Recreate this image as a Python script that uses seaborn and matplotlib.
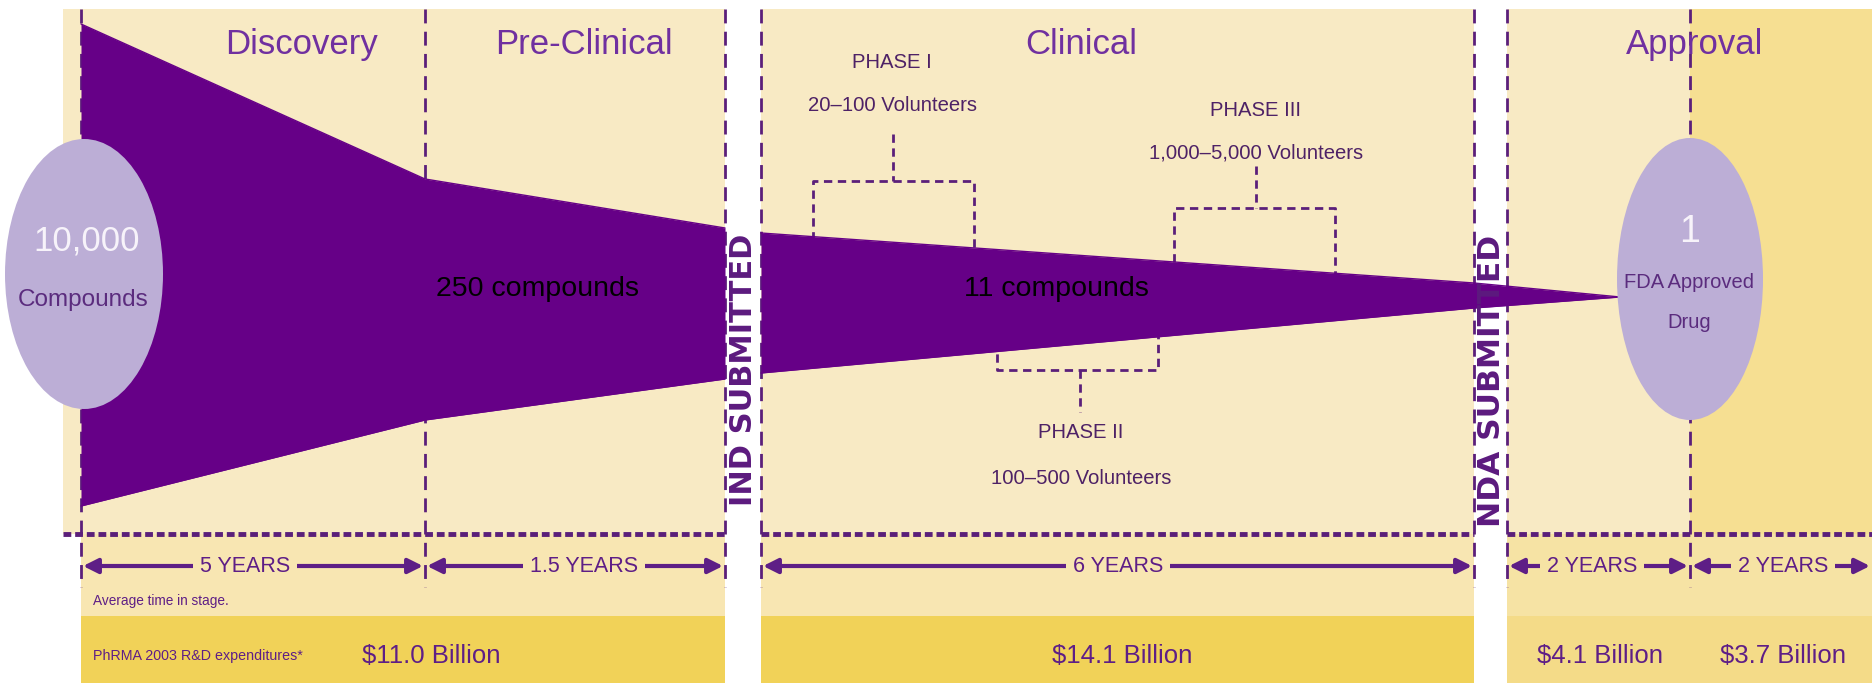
import matplotlib
matplotlib.use("Agg")
import matplotlib.pyplot as plt
from matplotlib.patches import Rectangle, Ellipse
import seaborn as sns
import pandas as pd

# ---------------- data ----------------
stages = ["Discovery", "Pre-Clinical", "Clinical", "Approval"]
compounds_start = "10,000"
compounds_mid = ["250 compounds", "11 compounds"]
approved_count = "1"
years_labels = ["5 YEARS", "1.5 YEARS", "6 YEARS", "2 YEARS", "2 YEARS"]
spend_labels = ["$11.0 Billion", "$14.1 Billion", "$4.1 Billion", "$3.7 Billion"]
phase_names = ["PHASE I", "PHASE II", "PHASE III"]
phase_volunteers = ["20\u2013100 Volunteers", "100\u2013500 Volunteers", "1,000\u20135,000 Volunteers"]
milestones = ["IND SUBMITTED", "NDA SUBMITTED"]

# funnel outline (stage boundary -> upper / lower edge)
funnel1_x = [81, 425, 725]
funnel1_top = [24, 179, 228]
funnel1_bot = [506, 420, 379]
funnel2_x = [761, 1474, 1620]
funnel2_top = [233, 283, 297]
funnel2_bot = [373, 308, 297]

# ---------------- style ----------------
sns.set_theme(style="white")
plt.rcParams["font.family"] = ["Liberation Sans", "DejaVu Sans"]
NARROW = ["Liberation Sans", "DejaVu Sans"]

PURPLE_T = "#7030A0"
FUNNEL = "#660087"
DASH = "#5B1F7A"
TXT = "#4E2266"
ELL = "#BCAED6"
BEIGE = "#F8EAC4"
BEIGE_D = "#F6DF92"
ROW = "#F8E6B2"
BAND = "#F1D258"
ROW3 = "#F6E3A4"
BAND3 = "#F4DB88"

fig = plt.figure(figsize=(18.72, 6.85), dpi=100)
ax = fig.add_axes([0, 0, 1, 1])


def rect(x0, y0, x1, y1, c, z=0):
    ax.add_patch(Rectangle((x0, y0), x1 - x0, y1 - y0, facecolor=c, edgecolor="none", zorder=z))


rect(63, 9, 725, 534, BEIGE)
rect(761, 9, 1474, 534, BEIGE)
rect(1507, 9, 1690, 534, BEIGE)
rect(1690, 9, 1872, 534, BEIGE_D)
# bottom rows
rect(81, 534, 725, 616, ROW)
rect(81, 616, 725, 683, BAND)
rect(761, 534, 1474, 616, ROW)
rect(761, 616, 1474, 683, BAND)
rect(1507, 534, 1872, 616, ROW3)
rect(1507, 616, 1872, 683, BAND3)

# dashed verticals
for xv in [81, 425, 725, 761, 1474, 1507, 1690]:
    ax.plot([xv, xv], [9, 587], color=DASH, lw=2, ls=(0, (5, 3)), zorder=1)
# dotted horizontal
for x0, x1 in [(63, 725), (761, 1474), (1507, 1872)]:
    ax.plot([x0, x1], [534, 534], color=DASH, lw=3.5, ls=(0, (1.6, 0.8)), zorder=1)

# phase brackets
br = dict(color=DASH, lw=2, ls=(0, (3, 2)), zorder=1)
ax.plot([813, 813, 974, 974], [240, 181, 181, 248], **br)
ax.plot([893, 893], [134, 181], **br)
ax.plot([1174, 1174, 1335, 1335], [262, 208, 208, 275], **br)
ax.plot([1256, 1256], [166, 208], **br)
ax.plot([997, 997, 1158, 1158], [340, 370, 370, 326], **br)
ax.plot([1080, 1080], [370, 412], **br)

# funnel
f1 = pd.DataFrame({"x": funnel1_x, "top": funnel1_top, "bot": funnel1_bot})
f2 = pd.DataFrame({"x": funnel2_x, "top": funnel2_top, "bot": funnel2_bot})
for f in (f1, f2):
    ax.fill_between(f["x"], f["top"], f["bot"], color=FUNNEL, lw=0, zorder=3)
    sns.lineplot(data=f, x="x", y="top", ax=ax, color=FUNNEL, lw=1, zorder=3, legend=False)
    sns.lineplot(data=f, x="x", y="bot", ax=ax, color=FUNNEL, lw=1, zorder=3, legend=False)

ax.set_xlim(0, 1872)
ax.set_ylim(685, 0)
ax.axis("off")

# ellipses
ax.add_patch(Ellipse((84, 274), 158, 270, facecolor=ELL, edgecolor="none", zorder=4))
ax.add_patch(Ellipse((1690, 279), 146, 282, facecolor=ELL, edgecolor="none", zorder=4))

ax.text(87, 241, compounds_start, color="#F7F3FA", fontsize=25, family=NARROW,
        ha="center", va="center", zorder=5)
ax.text(83, 300, "Compounds", color="#5B2C7E", fontsize=17.5, family=NARROW,
        ha="center", va="center", zorder=5)
ax.text(1690, 232, approved_count, color="#F7F3FA", fontsize=27, family=NARROW,
        ha="center", va="center", zorder=5)
ax.text(1689, 282, "FDA Approved", color="#5B2C7E", fontsize=14.5, family=NARROW,
        ha="center", va="center", zorder=5)
ax.text(1689, 322, "Drug", color="#5B2C7E", fontsize=14.5, family=NARROW,
        ha="center", va="center", zorder=5)

# stage titles
for label, xc in zip(stages, [301, 584, 1081, 1695]):
    ax.text(xc, 44, label, color=PURPLE_T, fontsize=25, ha="center", va="center", zorder=6)

# compounds text
ax.text(538, 289, compounds_mid[0], color="black", fontsize=20.5, ha="center", va="center", zorder=6)
ax.text(1056, 289, compounds_mid[1], color="black", fontsize=20.5, ha="center", va="center", zorder=6)

# phase labels
for name, vol, xc, y1, y2 in zip(phase_names, phase_volunteers,
                                  [892, 1081, 1256], [62, 432, 110], [105, 478, 153]):
    ax.text(xc, y1, name, color=TXT, fontsize=14.6, family=NARROW, ha="center", va="center", zorder=6)
    ax.text(xc, y2, vol, color=TXT, fontsize=14.6, family=NARROW, ha="center", va="center", zorder=6)

# milestones
ax.text(743, 370, milestones[0], color="#5C1A7E", fontsize=22, fontweight="bold",
        family=["DejaVu Sans"], rotation=90, ha="center", va="center", zorder=6)
ax.text(1491, 381, milestones[1], color="#5C1A7E", fontsize=22.5, fontweight="bold",
        family=["DejaVu Sans"], rotation=90, ha="center", va="center", zorder=6)

# year arrows
ARW = "#5E1E86"
spans = [(81, 425, ROW), (425, 725, ROW), (761, 1474, ROW), (1507, 1690, ROW3), (1690, 1872, ROW3)]
centers = [245, 584, 1118, 1592, 1783]
for (x0, x1, bg), lab, xc in zip(spans, years_labels, centers):
    ax.annotate("", xy=(x1 - 2, 566), xytext=(x0 + 2, 566),
                arrowprops=dict(arrowstyle="<|-|>", color=ARW, lw=3, mutation_scale=22,
                                shrinkA=0, shrinkB=0), zorder=6)
    ax.text(xc, 567, lab, color=ARW, fontsize=15.5, family=NARROW, ha="center", va="center",
            zorder=7, bbox=dict(boxstyle="square,pad=0.3", facecolor=bg, edgecolor="none"))

ax.text(93, 601, "Average time in stage.", color=ARW, fontsize=9.8, family=NARROW,
        ha="left", va="center", zorder=6)
ax.text(93, 656, "PhRMA 2003 R&D expenditures*", color=ARW, fontsize=10.3, family=NARROW,
        ha="left", va="center", zorder=6)
for lab, xc in zip(spend_labels, [431, 1122, 1600, 1783]):
    ax.text(xc, 656, lab, color=ARW, fontsize=18.5, family=NARROW, ha="center", va="center", zorder=6)

fig.savefig("out.png", dpi=100)
